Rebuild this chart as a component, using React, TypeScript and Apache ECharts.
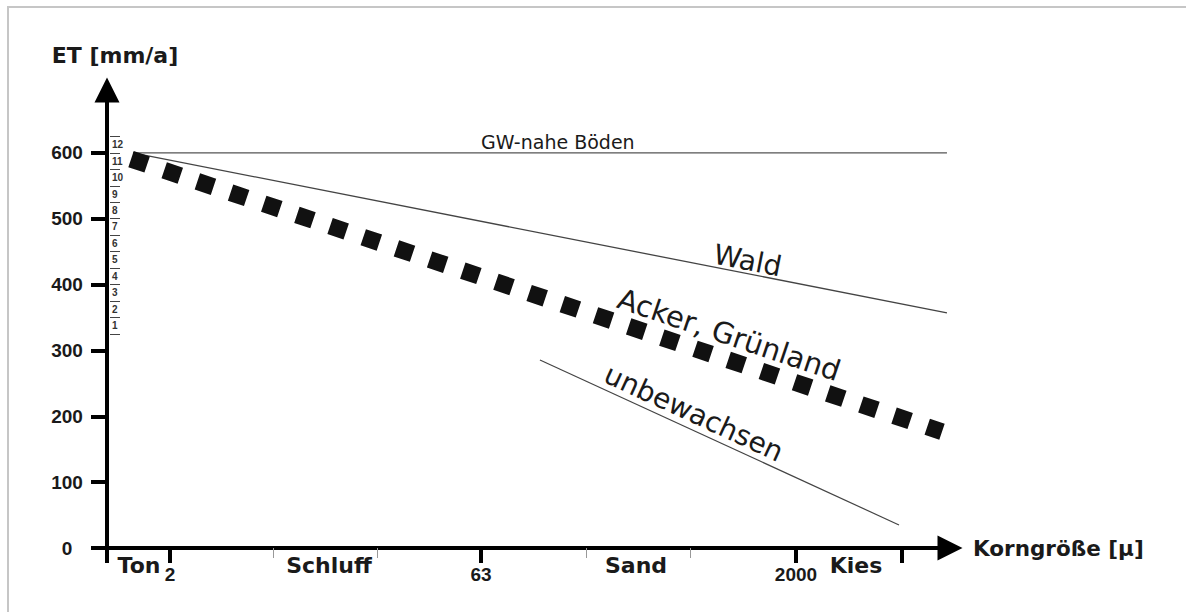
import React, { useEffect, useRef } from "react";
import * as echarts from "echarts";

// ---------- data ----------
const etTicks = [0, 100, 200, 300, 400, 500, 600];
const miniScaleLines = [325, 350, 375, 400, 425, 450, 475, 500, 525, 550, 575, 600, 625];
const miniScaleCenters = [337.5, 362.5, 387.5, 412.5, 437.5, 462.5, 487.5, 512.5, 537.5, 562.5, 587.5, 612.5];
const miniScaleLabels = ["1", "2", "3", "4", "5", "6", "7", "8", "9", "10", "11", "12"];

// grain-size axis: relative position 0..100
const majorBoundaries = [0, 7.47, 44.37, 81.73, 94.31];
const boundaryLabelPositions = [7.47, 44.37, 81.73];
const boundaryLabels = ["2", "63", "2000"];
const minorBoundaries = [19.69, 32.09, 56.82, 69.16];
const classPositions = [3.8, 26.33, 62.75, 88.85];
const classNames = ["Ton", "Schluff", "Sand", "Kies"];

// series (x = relative grain-size position, y = ET mm/a)
const gwX = [3.08, 99.64];
const gwY = [600, 600];
const waldX = [3.08, 99.64];
const waldY = [600, 357];
const unbewX = [51.36, 93.95];
const unbewY = [285.5, 35];
const ackerX = [2.85, 99.05];
const ackerY = [590.5, 176.5];

// ---------- helpers ----------
const pairs = (xs: number[], ys: number[]) => xs.map((x, i) => [x, ys[i]]);
const lookup = (positions: number[], labels: string[]) => (v: number) => {
  let best = 0;
  positions.forEach((p, i) => {
    if (Math.abs(p - v) < Math.abs(positions[best] - v)) best = i;
  });
  return labels[best];
};

// text annotations anchored along series (t = fraction along line, offset = px above line)
const annotations = [
  { seriesIndex: 0, text: "GW-nahe Böden", t: 0.522, offset: 11, fontSize: 19, scaleX: 1.0 },
  { seriesIndex: 1, text: "Wald", t: 0.752, offset: 13, fontSize: 28, scaleX: 1.0 },
  { seriesIndex: 2, text: "unbewachsen", t: 0.41, offset: 16, fontSize: 28, scaleX: 1.0 },
  { seriesIndex: 3, text: "Acker, Grünland", t: 0.728, offset: 24, fontSize: 29, scaleX: 1.0 },
];

const TXT = "#1a1a1a";

export default function App() {
  const ref = useRef<HTMLDivElement>(null);

  useEffect(() => {
    if (!ref.current) return;
    const chart = echarts.init(ref.current, null, { renderer: "svg" });

    const option: any = {
      animation: false,
      textStyle: { fontFamily: "'DejaVu Sans', sans-serif" },
      grid: { left: 107, right: 236, top: 87, bottom: 64, containLabel: false, outerBoundsMode: "none" },
      xAxis: [
        {
          type: "value",
          min: 0,
          max: 100,
          position: "bottom",
          name: "Korngröße [μ]",
          nameLocation: "end",
          nameGap: 23,
          nameTextStyle: {
            fontFamily: "DejaVu Sans",
            fontWeight: "bold",
            fontSize: 21.5,
            color: TXT,
            verticalAlign: "middle",
            align: "left",
          },
          axisLine: {
            show: true,
            onZero: false,
            symbol: ["none", "triangle"],
            symbolSize: [25, 25],
            lineStyle: { color: "#000", width: 4 },
          },
          axisTick: { show: true, customValues: majorBoundaries, length: 15, lineStyle: { color: "#000", width: 4 } },
          axisLabel: {
            show: true,
            customValues: boundaryLabelPositions,
            formatter: lookup(boundaryLabelPositions, boundaryLabels),
            fontFamily: "Liberation Sans",
            fontWeight: "bold",
            fontSize: 19,
            color: TXT,
            margin: 17,
          },
          splitLine: { show: false },
        },
        {
          type: "value",
          min: 0,
          max: 100,
          position: "bottom",
          axisLine: { show: false, onZero: false },
          axisTick: { show: true, customValues: minorBoundaries, length: 10, lineStyle: { color: "#999", width: 1 } },
          axisLabel: {
            show: true,
            customValues: classPositions,
            formatter: lookup(classPositions, classNames),
            fontFamily: "DejaVu Sans",
            fontWeight: "bold",
            fontSize: 22,
            color: TXT,
            margin: 6,
          },
          splitLine: { show: false },
        },
      ],
      yAxis: [
        {
          type: "value",
          min: 0,
          max: 700,
          interval: 100,
          position: "left",
          name: "ET [mm/a]",
          nameLocation: "end",
          nameGap: 21,
          nameTextStyle: {
            fontFamily: "DejaVu Sans",
            fontWeight: "bold",
            fontSize: 22,
            color: TXT,
            align: "center",
            padding: [0, 0, 0, 16],
          },
          axisLine: {
            show: true,
            onZero: false,
            symbol: ["none", "triangle"],
            symbolSize: [25, 25],
            symbolOffset: [0, -3],
            lineStyle: { color: "#000", width: 4 },
          },
          axisTick: { show: true, customValues: etTicks, length: 16, lineStyle: { color: "#000", width: 4 } },
          axisLabel: {
            show: true,
            customValues: etTicks,
            align: "center",
            margin: 40,
            fontFamily: "Liberation Sans",
            fontWeight: "bold",
            fontSize: 19,
            color: TXT,
          },
          splitLine: { show: false },
        },
        {
          type: "value",
          min: 0,
          max: 700,
          interval: 100,
          position: "left",
          offset: -3,
          axisLine: { show: false, onZero: false },
          axisTick: { show: true, inside: true, customValues: miniScaleLines, length: 10, lineStyle: { color: "#444", width: 1 } },
          axisLabel: {
            show: true,
            inside: true,
            customValues: miniScaleCenters,
            formatter: lookup(miniScaleCenters, miniScaleLabels),
            fontFamily: "Liberation Sans",
            fontWeight: "bold",
            fontSize: 10,
            color: "#333",
            margin: 2,
          },
          splitLine: { show: false },
        },
      ],
      series: [
        {
          type: "line",
          name: "GW-nahe Böden",
          data: pairs(gwX, gwY),
          symbol: "none",
          silent: true,
          lineStyle: { color: "#555", width: 1.3 },
        },
        {
          type: "line",
          name: "Wald",
          data: pairs(waldX, waldY),
          symbol: "none",
          silent: true,
          lineStyle: { color: "#444", width: 1.3 },
        },
        {
          type: "line",
          name: "unbewachsen",
          data: pairs(unbewX, unbewY),
          symbol: "none",
          silent: true,
          lineStyle: { color: "#444", width: 1.2 },
        },
        {
          type: "line",
          name: "Acker, Grünland",
          data: pairs(ackerX, ackerY),
          symbol: "none",
          silent: true,
          lineStyle: { color: "#111", width: 17, type: [17, 18], cap: "butt" },
        },
      ],
    };

    chart.setOption(option);

    const seriesData = [pairs(gwX, gwY), pairs(waldX, waldY), pairs(unbewX, unbewY), pairs(ackerX, ackerY)];
    const texts = annotations.map((a) => {
      const d = seriesData[a.seriesIndex];
      const p0 = chart.convertToPixel({ seriesIndex: a.seriesIndex }, d[0]) as number[];
      const p1 = chart.convertToPixel({ seriesIndex: a.seriesIndex }, d[1]) as number[];
      const ang = Math.atan2(p1[1] - p0[1], p1[0] - p0[0]);
      const px = p0[0] + a.t * (p1[0] - p0[0]) + a.offset * Math.sin(ang);
      const py = p0[1] + a.t * (p1[1] - p0[1]) - a.offset * Math.cos(ang);
      return {
        type: "text",
        x: px,
        y: py,
        rotation: -ang,
        scaleX: a.scaleX,
        silent: true,
        style: {
          text: a.text,
          fontSize: a.fontSize,
          fontFamily: "DejaVu Sans",
          fill: TXT,
          align: "center",
          verticalAlign: "middle",
          textAlign: "center",
          textVerticalAlign: "middle",
        },
      };
    });

    chart.setOption({
      graphic: [
        {
          type: "rect",
          silent: true,
          shape: { x: 8, y: 7, width: 1400, height: 1000 },
          style: { fill: "none", stroke: "#c6c6c6", lineWidth: 2 },
        },
        ...texts,
      ],
    });

    return () => chart.dispose();
  }, []);

  return (
    <div
      ref={ref}
      style={{ position: "absolute", left: 0, top: 0, width: 1186, height: 612, background: "#fff" }}
    />
  );
}
